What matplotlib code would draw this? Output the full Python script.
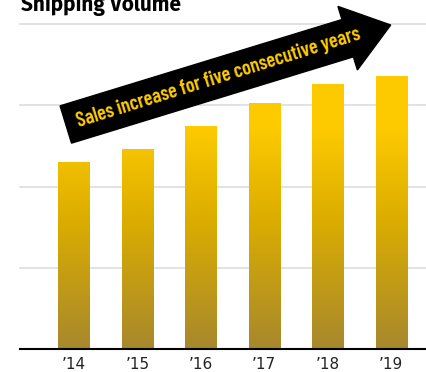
import matplotlib.pyplot as plt
import numpy as np
from matplotlib.colors import LinearSegmentedColormap
from matplotlib.patches import FancyArrow
from matplotlib.transforms import Affine2D

years = ["\u201914", "\u201915", "\u201916", "\u201917", "\u201918", "\u201919"]
volume = [57.5, 61.5, 68.6, 75.7, 81.5, 84.1]
grid_levels = [25, 50, 75, 100]

W, H = 426, 372
fig = plt.figure(figsize=(W / 100, H / 100), dpi=100)
ax = fig.add_axes([20 / W, 1 - 349 / H, 1 - 20 / W, (349 - 24) / H])

x = np.arange(len(years))
bars = ax.bar(x, volume, width=0.49, color='none', zorder=3)

# vertical gold gradient, clipped to each bar
cmap = LinearSegmentedColormap.from_list(
    'gold', [(0.0, '#a7882d'), (0.4, '#dcad00'), (0.68, '#fdca00'), (1.0, '#ffcc00')])
grad = np.linspace(0, 100, 256)[:, None]
for b in bars:
    im = ax.imshow(grad, extent=[-1, 6, 0, 100], origin='lower', aspect='auto',
                   cmap=cmap, vmin=0, vmax=100, zorder=3)
    im.set_clip_path(b)

for g in grid_levels:
    ax.axhline(g, color='#dddddd', lw=1.2, zorder=1, clip_on=False)
ax.axhline(0, color='black', lw=1.5, zorder=4, clip_on=False)

ax.set_xlim(-0.85, 5.55)
ax.set_ylim(0, 100)
ax.set_xticks(x)
ax.set_xticklabels(years, fontsize=11, color='#222222')
ax.tick_params(axis='x', length=0, pad=6)
ax.set_yticks([])
for s in ax.spines.values():
    s.set_visible(False)

fig.text(21 / W, 1 - 11 / H, 'Shipping Volume', fontsize=15, fontweight='bold',
         family=['Fira Sans', 'Open Sans', 'DejaVu Sans'], va='baseline', ha='left')

# arrow in pixel units (y up)
px = Affine2D().scale(1 / W, 1 / H) + fig.transFigure
tail = np.array([65.8, H - 124.5])
tip = np.array([390.7, H - 25])
d = tip - tail
arrow = FancyArrow(tail[0], tail[1], d[0], d[1], width=39, head_width=66.5,
                   head_length=45, length_includes_head=True, color='black',
                   transform=px, zorder=10)
fig.add_artist(arrow)
ang = np.degrees(np.arctan2(d[1], d[0]))
fig.text(220, H - 83, 'Sales increase for five consecutive years', transform=px,
         rotation=ang + 0.3, rotation_mode='anchor', ha='center', va='baseline',
         fontsize=14.6, fontweight=600, color='#ffcc00',
         family=['Barlow Condensed', 'DejaVu Sans'], zorder=11)

plt.savefig('out.png', dpi=100)
